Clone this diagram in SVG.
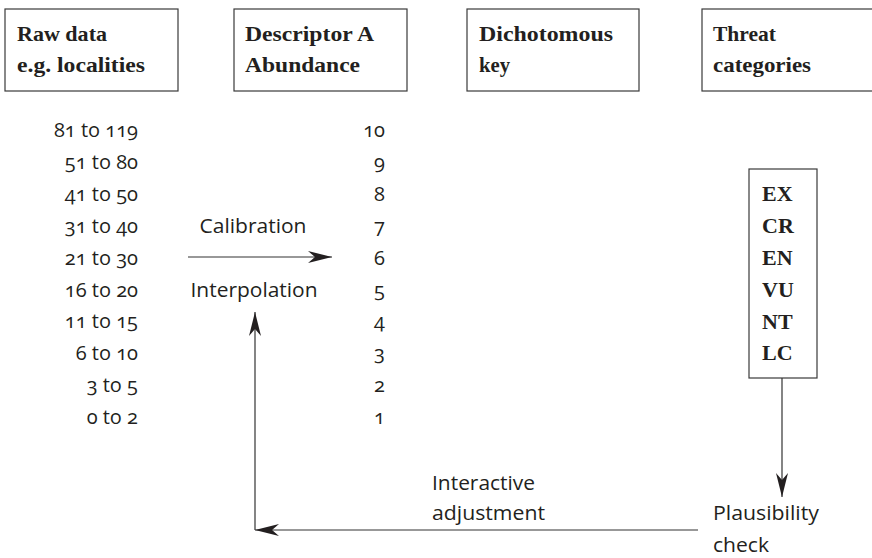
<svg xmlns="http://www.w3.org/2000/svg" width="872" height="558" viewBox="0 0 872 558">
<style>
.box{fill:#fff;stroke:#3a3a3a;stroke-width:1.2}
.hd{font-family:"Liberation Serif",serif;font-weight:bold;font-size:22px;fill:#231f20}
.sn{font-family:"Open Sans","Liberation Sans",Arial,sans-serif;font-size:20px;fill:#231f20;font-variant-numeric:oldstyle-nums}
.r{text-anchor:end}
.c{text-anchor:middle}
.ln{stroke:#333;stroke-width:1.2;fill:none}
</style>
<defs>
<marker id="ah" viewBox="0 0 24 12" refX="24" refY="6" markerWidth="24" markerHeight="12" markerUnits="userSpaceOnUse" orient="auto">
<path d="M0,0 L24,6 L0,12 L7,6 z" fill="#231f20"/>
</marker>
</defs>
<g id="raw-data">
<rect class="box" x="5" y="9" width="173" height="82"/>
<text class="hd" x="17" y="41" textLength="90" lengthAdjust="spacingAndGlyphs">Raw data</text>
<text class="hd" x="17" y="72" textLength="128" lengthAdjust="spacingAndGlyphs">e.g. localities</text>
</g>
<g id="descriptor">
<rect class="box" x="234" y="9" width="173" height="82"/>
<text class="hd" x="245" y="41" textLength="129" lengthAdjust="spacingAndGlyphs">Descriptor A</text>
<text class="hd" x="245" y="72" textLength="115" lengthAdjust="spacingAndGlyphs">Abundance</text>
</g>
<g id="dichotomous-key">
<rect class="box" x="467" y="9" width="172" height="82"/>
<text class="hd" x="479" y="41" textLength="134" lengthAdjust="spacingAndGlyphs">Dichotomous</text>
<text class="hd" x="479" y="72" textLength="31" lengthAdjust="spacingAndGlyphs">key</text>
</g>
<g id="threat-categories">
<rect class="box" x="702" y="9" width="174" height="82"/>
<text class="hd" x="713" y="41" textLength="63" lengthAdjust="spacingAndGlyphs">Threat</text>
<text class="hd" x="713" y="72" textLength="98" lengthAdjust="spacingAndGlyphs">categories</text>
</g>
<g id="raw-values">
<text class="sn r" x="138" y="137">81 to 119</text>
<text class="sn r" x="138" y="169">51 to 80</text>
<text class="sn r" x="138" y="201">41 to 50</text>
<text class="sn r" x="138" y="233">31 to 40</text>
<text class="sn r" x="138" y="265">21 to 30</text>
<text class="sn r" x="138" y="297">16 to 20</text>
<text class="sn r" x="138" y="328">11 to 15</text>
<text class="sn r" x="138" y="360">6 to 10</text>
<text class="sn r" x="138" y="392">3 to 5</text>
<text class="sn r" x="138" y="424">0 to 2</text>
</g>
<g id="abundance-values">
<text class="sn r" x="385" y="137">10</text>
<text class="sn r" x="385" y="169">9</text>
<text class="sn r" x="385" y="201">8</text>
<text class="sn r" x="385" y="233">7</text>
<text class="sn r" x="385" y="265">6</text>
<text class="sn r" x="385" y="297">5</text>
<text class="sn r" x="385" y="328">4</text>
<text class="sn r" x="385" y="360">3</text>
<text class="sn r" x="385" y="392">2</text>
<text class="sn r" x="385" y="424">1</text>
</g>
<g id="categories">
<rect class="box" x="749" y="169" width="68" height="209"/>
<text class="hd" x="762" y="201">EX</text>
<text class="hd" x="762" y="233">CR</text>
<text class="hd" x="762" y="265">EN</text>
<text class="hd" x="762" y="297">VU</text>
<text class="hd" x="762" y="329">NT</text>
<text class="hd" x="762" y="360">LC</text>
</g>
<g id="labels">
<text class="sn c" x="253" y="233" textLength="107" lengthAdjust="spacingAndGlyphs">Calibration</text>
<text class="sn c" x="254" y="297" textLength="127" lengthAdjust="spacingAndGlyphs">Interpolation</text>
<text class="sn" x="432" y="490" textLength="103" lengthAdjust="spacingAndGlyphs">Interactive</text>
<text class="sn" x="432" y="520" textLength="113" lengthAdjust="spacingAndGlyphs">adjustment</text>
<text class="sn" x="713" y="520" textLength="106" lengthAdjust="spacingAndGlyphs">Plausibility</text>
<text class="sn" x="713" y="552" textLength="56" lengthAdjust="spacingAndGlyphs">check</text>
</g>
<g id="connectors">
<line class="ln" x1="188" y1="257" x2="332" y2="257" marker-end="url(#ah)"/>
<line class="ln" x1="782" y1="378" x2="782" y2="497" marker-end="url(#ah)"/>
<line class="ln" x1="698" y1="530" x2="255" y2="530" marker-end="url(#ah)"/>
<line class="ln" x1="255" y1="530" x2="255" y2="312" marker-end="url(#ah)"/>
</g>
</svg>
